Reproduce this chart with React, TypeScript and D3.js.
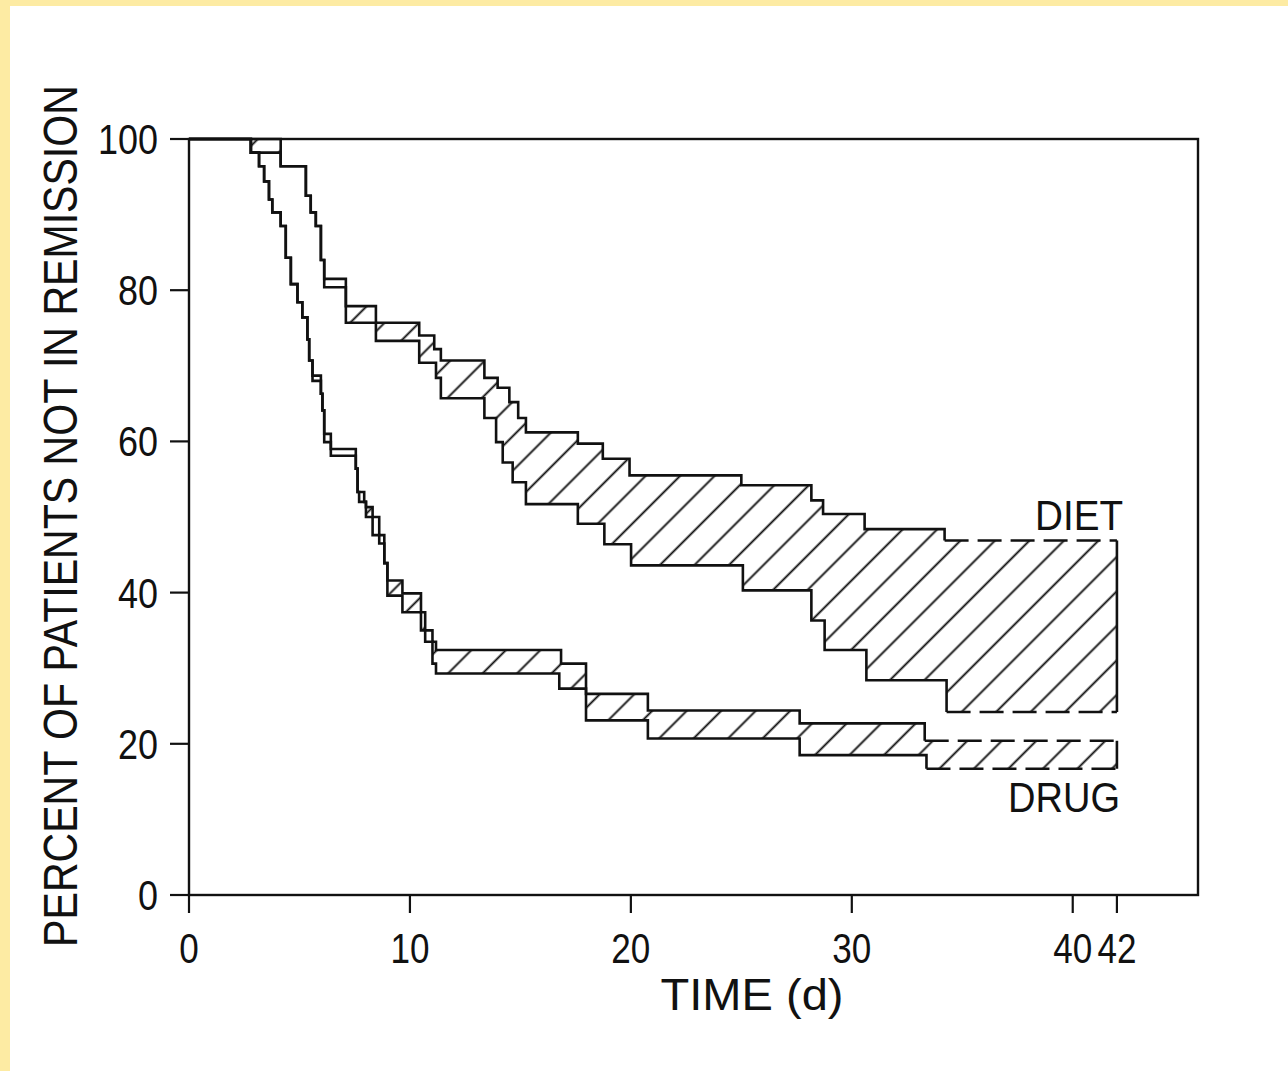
import React from "react";
import * as d3 from "d3";

type Pt = [number, number];

// Tick values
const xTicks: number[] = [0, 10, 20, 30, 40, 42];
const yTicks: number[] = [0, 20, 40, 60, 80, 100];
const END_DAY = 42;

// Step points [day, percent not in remission] – DIET band
const dietUpper: Pt[] = [
  [0, 100], [4.15, 96.4], [5.29, 92.5], [5.51, 90.3], [5.74, 88.5], [5.97, 84.0],
  [6.12, 81.5], [7.1, 77.9], [8.46, 75.7], [10.42, 74.0], [11.1, 72.2], [11.4, 70.7],
  [13.37, 68.4], [13.97, 67.1], [14.5, 65.2], [14.9, 63.1], [15.25, 61.2], [17.6, 59.7],
  [18.73, 57.7], [19.94, 55.5], [25.0, 54.2], [28.17, 52.2], [28.7, 50.4], [30.58, 48.4],
  [34.2, 46.9],
];
const dietLower: Pt[] = [
  [0, 100], [2.8, 98.2], [4.15, 96.4], [5.29, 92.5], [5.51, 90.3], [5.74, 88.5], [5.97, 84.0],
  [6.12, 80.4], [7.1, 75.7], [8.46, 73.3], [10.42, 70.4], [11.18, 68.4], [11.4, 65.7],
  [13.37, 63.1], [13.9, 59.9], [14.2, 57.2], [14.65, 54.6], [15.25, 51.7], [17.6, 49.1],
  [18.8, 46.4], [20.01, 43.6], [25.07, 40.3], [28.17, 36.3], [28.77, 32.4], [30.66, 28.4],
  [34.29, 24.2],
];

// DRUG band
const drugUpper: Pt[] = [
  [0, 100], [2.8, 98.2], [3.17, 96.4], [3.4, 94.4], [3.62, 92.0], [3.77, 90.3], [4.15, 88.5],
  [4.38, 84.3], [4.61, 80.8], [4.91, 78.4], [5.13, 76.4], [5.36, 73.5], [5.44, 70.7],
  [5.59, 68.7], [5.97, 66.3], [6.04, 64.1], [6.12, 61.0], [6.42, 59.0], [7.55, 56.4],
  [7.63, 53.3], [7.93, 52.0], [8.01, 51.3], [8.31, 50.0], [8.61, 47.6], [8.84, 43.9],
  [8.98, 41.6], [9.66, 39.9], [10.5, 37.4], [10.69, 35.0], [11.02, 33.5], [11.18, 32.4],
  [16.84, 30.6], [17.97, 26.6], [20.77, 24.4], [27.64, 22.7], [33.3, 20.4],
];
const drugLower: Pt[] = [
  [0, 100], [2.8, 98.2], [3.17, 96.4], [3.4, 94.4], [3.62, 92.0], [3.77, 90.3], [4.15, 88.5],
  [4.38, 84.3], [4.61, 80.8], [4.91, 78.4], [5.13, 76.4], [5.36, 73.5], [5.44, 70.7],
  [5.59, 68.0], [5.97, 66.3], [6.04, 64.1], [6.12, 59.9], [6.42, 58.1], [7.55, 56.4],
  [7.63, 53.3], [7.7, 52.0], [8.01, 50.0], [8.31, 47.6], [8.61, 46.5], [8.84, 43.9],
  [8.98, 39.6], [9.66, 37.4], [10.5, 35.0], [10.69, 33.5], [11.02, 30.6], [11.18, 29.3],
  [16.76, 27.3], [17.97, 23.1], [20.77, 20.7], [27.64, 18.5], [33.38, 16.7],
];

const FONT = "'Liberation Sans', Arial, Helvetica, sans-serif";

function stepAt(arr: Pt[], t: number): number {
  let v = arr[0][1];
  for (const p of arr) {
    if (p[0] <= t) v = p[1];
    else break;
  }
  return v;
}

export default function App() {
  const W = 1288;
  const H = 1071;
  const x = d3.scaleLinear().domain([0, 45.67]).range([189, 1198]);
  const y = d3.scaleLinear().domain([0, 100]).range([895, 139]);

  const line = d3
    .line<Pt>()
    .x((d) => x(d[0]))
    .y((d) => y(d[1]))
    .curve(d3.curveStepAfter);

  const bandArea = (upper: Pt[], lower: Pt[]) => {
    const times = Array.from(
      new Set([...upper.map((d) => d[0]), ...lower.map((d) => d[0]), END_DAY])
    ).sort((a, b) => a - b);
    const rows = times.map((t) => ({ t, u: stepAt(upper, t), l: stepAt(lower, t) }));
    return d3
      .area<{ t: number; u: number; l: number }>()
      .x((d) => x(d.t))
      .y0((d) => y(d.l))
      .y1((d) => y(d.u))
      .curve(d3.curveStepAfter)(rows) as string;
  };

  const bands = [
    { upper: dietUpper, lower: dietLower },
    { upper: drugUpper, lower: drugLower },
  ];

  const hatchGap = 24.4;

  return (
    <div style={{ position: "absolute", left: 0, top: 0 }}>
      <svg width={W} height={H} style={{ display: "block" }}>
        <defs>
          <pattern
            id="hatch"
            patternUnits="userSpaceOnUse"
            width={hatchGap}
            height={hatchGap}
            patternTransform="rotate(45)"
          >
            <line
              x1={hatchGap / 2}
              y1={0}
              x2={hatchGap / 2}
              y2={hatchGap}
              stroke="#111"
              strokeWidth={1.9}
            />
          </pattern>
        </defs>
        <rect x={0} y={0} width={W} height={H} fill="#FDEBA3" />
        <rect x={10} y={6} width={W - 10} height={H - 6} fill="#ffffff" />

        {/* hatched bands */}
        {bands.map((b, i) => (
          <path key={"a" + i} d={bandArea(b.upper, b.lower)} fill="url(#hatch)" stroke="none" />
        ))}

        {/* frame */}
        <rect
          x={x(0)}
          y={y(100)}
          width={x(45.67) - x(0)}
          height={y(0) - y(100)}
          fill="none"
          stroke="#111"
          strokeWidth={2.4}
        />

        {/* step curves */}
        {bands.map((b, i) => {
          const last = (arr: Pt[]) => arr[arr.length - 1];
          const lu = last(b.upper);
          const ll = last(b.lower);
          return (
            <g key={"c" + i} fill="none" stroke="#111" strokeWidth={2.6}>
              <path d={line(b.upper) as string} />
              <path d={line(b.lower) as string} />
              <line
                x1={x(lu[0])}
                y1={y(lu[1])}
                x2={x(END_DAY)}
                y2={y(lu[1])}
                strokeDasharray="24 9"
              />
              <line
                x1={x(ll[0])}
                y1={y(ll[1])}
                x2={x(END_DAY)}
                y2={y(ll[1])}
                strokeDasharray="24 9"
              />
              <line x1={x(END_DAY)} y1={y(lu[1])} x2={x(END_DAY)} y2={y(ll[1])} />
            </g>
          );
        })}

        {/* y axis ticks */}
        {yTicks.map((v) => (
          <g key={"y" + v}>
            <line x1={170} x2={x(0)} y1={y(v)} y2={y(v)} stroke="#111" strokeWidth={2.2} />
            <text
              x={158}
              y={y(v) + 15}
              textAnchor="end"
              fontFamily={FONT}
              fontSize={42}
              fill="#111"
              textLength={String(v).length * 20}
              lengthAdjust="spacingAndGlyphs"
            >
              {v}
            </text>
          </g>
        ))}

        {/* x axis ticks */}
        {xTicks.map((v) => (
          <g key={"x" + v}>
            <line x1={x(v)} x2={x(v)} y1={y(0)} y2={913} stroke="#111" strokeWidth={2.2} />
            <text
              x={x(v)}
              y={963}
              textAnchor="middle"
              fontFamily={FONT}
              fontSize={42}
              fill="#111"
              textLength={String(v).length * 19.5}
              lengthAdjust="spacingAndGlyphs"
            >
              {v}
            </text>
          </g>
        ))}

        {/* axis titles */}
        <text
          x={752}
          y={1010}
          textAnchor="middle"
          fontFamily={FONT}
          fontSize={44}
          fill="#111"
          textLength={183}
          lengthAdjust="spacingAndGlyphs"
        >
          TIME (d)
        </text>
        <text
          transform="translate(77,516) rotate(-90) scale(0.856,1)"
          textAnchor="middle"
          fontFamily={FONT}
          fontSize={48}
          fill="#111"
        >
          PERCENT OF PATIENTS NOT IN REMISSION
        </text>

        {/* series labels */}
        <text
          x={1035}
          y={530}
          fontFamily={FONT}
          fontSize={42}
          fill="#111"
          textLength={88}
          lengthAdjust="spacingAndGlyphs"
        >
          DIET
        </text>
        <text
          x={1008}
          y={812}
          fontFamily={FONT}
          fontSize={42}
          fill="#111"
          textLength={112}
          lengthAdjust="spacingAndGlyphs"
        >
          DRUG
        </text>
      </svg>
    </div>
  );
}
